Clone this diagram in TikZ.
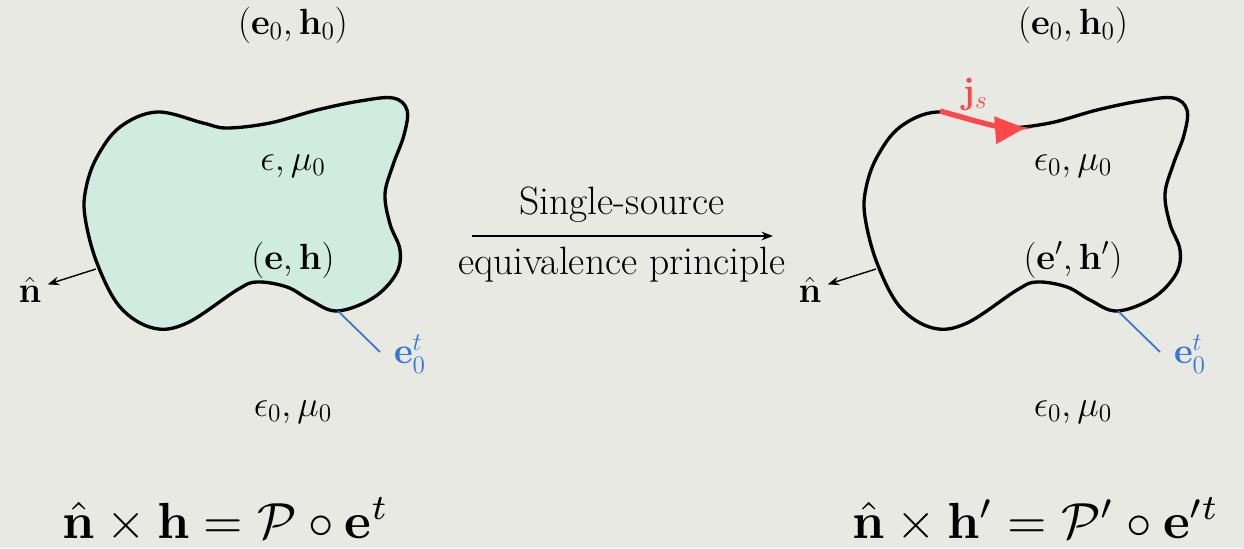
\documentclass[tikz,border=0pt]{standalone}
\usepackage{amsmath,amssymb}
\usetikzlibrary{arrows.meta}

\definecolor{bgcol}{RGB}{233,233,228}
\definecolor{fillcol}{RGB}{208,235,224}
\definecolor{jscol}{RGB}{252,72,72}
\definecolor{etcol}{RGB}{52,118,214}

\tikzset{
  lab/.style={font=\fontsize{22.5}{27}\selectfont},
  eqlab/.style={font=\fontsize{10}{12}\selectfont, scale=2.89},
  blobline/.style={line width=1.9pt, line join=round}
}

\begin{document}
\begin{tikzpicture}[x=0.02cm, y=-0.02cm, >=Stealth]

% --- Фон ---
\fill[bgcol] (0,0) rectangle (1244,548);
\useasboundingbox (0,0) rectangle (1244,548);

% --- Две области: слева заполненная, справа пустая ---
\foreach \dx/\col in {0/fillcol, 780/bgcol} {
  \draw[blobline, fill=\col, shift={(\dx,0)}]
    plot[smooth cycle, tension=0.6] coordinates {
      (157,112) (203,123) (227,128) (270,123) (317,110) (360,101)
      (393,98) (407,110) (404,135) (393,165) (385,194) (390,224)
      (400,250) (396,274) (373,298) (337,311) (310,300) (287,287)
      (257,282) (237,290) (187,323) (153,328) (120,307) (97,263)
      (85,217) (86,188) (97,157) (120,127)};
  % нормаль и касательная e_0^t
  \coordinate (nstart\dx) at (96+\dx,269);
  \coordinate (tstart\dx) at (338+\dx,311);
  \coordinate (tend\dx) at (380+\dx,352);
}

% --- Подписи слева ---
\node[lab] (eh0L) at (293,25) {$(\mathbf{e}_0,\mathbf{h}_0)$};
\node[lab] (medL) at (293,166) {$\epsilon,\mu_0$};
\node[lab] (ehL) at (293,260) {$(\mathbf{e},\mathbf{h})$};
\node[lab] (outL) at (293,412) {$\epsilon_0,\mu_0$};
\node[lab] (nL) at (30,290) {$\hat{\mathbf{n}}$};
\node[lab, etcol] (etL) at (410,354) {$\mathbf{e}_0^t$};

% --- Подписи справа ---
\node[lab] (eh0R) at (1073,25) {$(\mathbf{e}_0,\mathbf{h}_0)$};
\node[lab] (medR) at (1073,166) {$\epsilon_0,\mu_0$};
\node[lab] (ehR) at (1073,260) {$(\mathbf{e}',\mathbf{h}')$};
\node[lab] (outR) at (1073,412) {$\epsilon_0,\mu_0$};
\node[lab] (nR) at (810,290) {$\hat{\mathbf{n}}$};
\node[lab, etcol] (etR) at (1190,354) {$\mathbf{e}_0^t$};

% --- Нормали и e_0^t ---
\draw[->, line width=0.8pt] (nstart0) -- (nL);
\draw[->, line width=0.8pt] (nstart780) -- (nR);
\draw[etcol, line width=1pt] (tstart0) -- (tend0);
\draw[etcol, line width=1pt] (tstart780) -- (tend780);

% --- Поверхностный ток j_s ---
\draw[jscol, line width=3pt, -{Triangle[length=17pt, width=15pt]}]
  plot[smooth, tension=0.6] coordinates {(940,111) (983,123) (1007,128) (1025,128)};
\node[lab, jscol] (js) at (975,94) {$\mathbf{j}_s$};

% --- Стрелка между картинками ---
\coordinate (arrA) at (472,236);
\coordinate (arrB) at (773,236);
\draw[->, line width=0.8pt] (arrA) -- (arrB);
\node[lab] (top) at (622,205) {Single-source};
\node[lab] (bot) at (622,265) {equivalence principle};

% --- Формулы ---
\node[eqlab] (eqL) at (226,520) {$\hat{\mathbf{n}}\times\mathbf{h}=\mathcal{P}\circ\mathbf{e}^t$};
\node[eqlab] (eqR) at (1036,520) {$\hat{\mathbf{n}}\times\mathbf{h}'=\mathcal{P}'\circ\mathbf{e}'^t$};

\end{tikzpicture}
\end{document}
